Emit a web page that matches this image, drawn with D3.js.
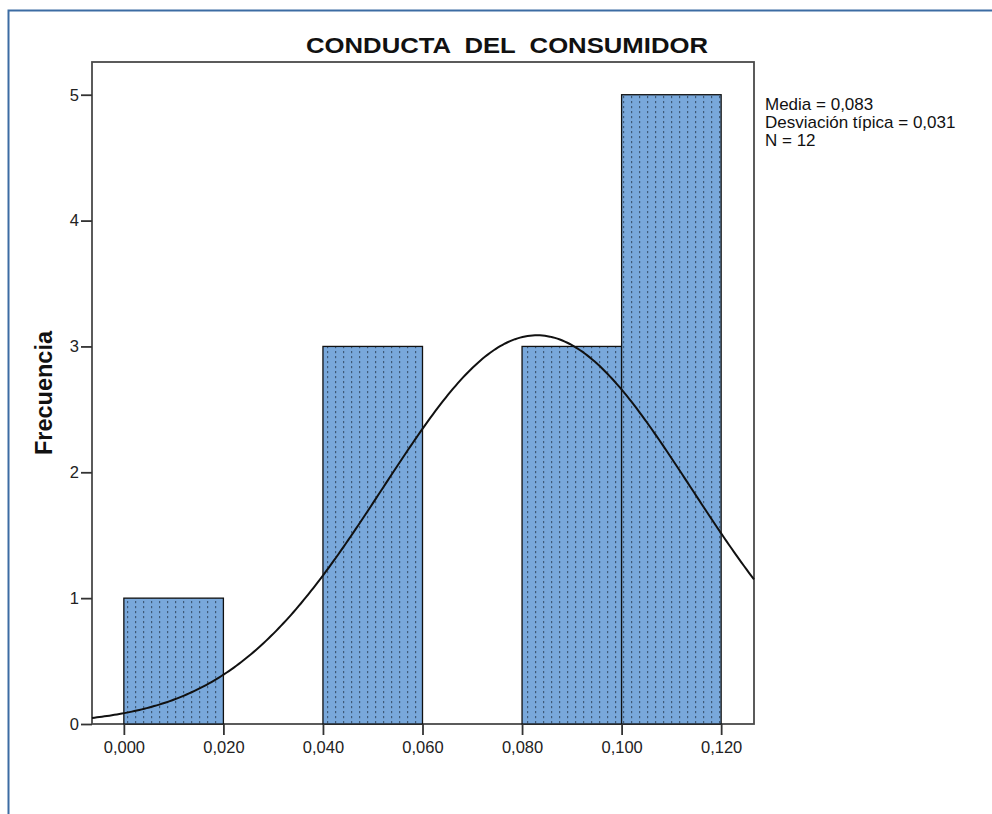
<!DOCTYPE html>
<html>
<head>
<meta charset="utf-8">
<script src="https://cdn.jsdelivr.net/npm/d3@7"></script>
<style>
  body { margin: 0; background: #fff; }
  text { font-family: "Liberation Sans", Arial, sans-serif; }
</style>
</head>
<body>
<div id="chart"></div>
<script>
// histogram bins (lower edge, upper edge) and counts
let binStart = [0.00, 0.02, 0.04, 0.06, 0.08, 0.10];
let binEnd   = [0.02, 0.04, 0.06, 0.08, 0.10, 0.12];
let counts   = [1, 0, 3, 0, 3, 5];
let xTicks   = [0.00, 0.02, 0.04, 0.06, 0.08, 0.10, 0.12];
let yTicks   = [0, 1, 2, 3, 4, 5];
let statsLines = ["Media = 0,083", "Desviación típica = 0,031", "N = 12"];
let mean = 0.083, sd = 0.031, n = 12, binWidth = 0.02;

let width = 992, height = 814;
let plot = {left: 92, right: 754, top: 62, bottom: 724};

let svg = d3.select("#chart")
    .append("svg")
    .attr("width", width)
    .attr("height", height);

// outer blue frame
svg.append("rect")
    .attr("x", 8.5).attr("y", 10.5)
    .attr("width", width + 20).attr("height", height + 20)
    .attr("fill", "none")
    .attr("stroke", "#3c6ca3")
    .attr("stroke-width", 2);

// dotted pattern for bars
let defs = svg.append("defs");
let pat = defs.append("pattern")
    .attr("id", "dots")
    .attr("patternUnits", "userSpaceOnUse")
    .attr("width", 8).attr("height", 5)
    .attr("x", 124 + 3);
pat.append("rect").attr("width", 8).attr("height", 5).attr("fill", "#79a8db");
pat.append("rect").attr("x", 0).attr("y", 1).attr("width", 1.2).attr("height", 2.2).attr("fill", "#3f5a78");

let x = d3.scaleLinear()
    .domain([-0.0064, 0.1266])
    .range([plot.left, plot.right]);

let y = d3.scaleLinear()
    .domain([0, 5.26])
    .range([plot.bottom, plot.top]);

// plot frame
svg.append("rect")
    .attr("x", plot.left).attr("y", plot.top)
    .attr("width", plot.right - plot.left)
    .attr("height", plot.bottom - plot.top)
    .attr("fill", "none")
    .attr("stroke", "#4a4a4a")
    .attr("stroke-width", 1.8);

// bars
let bars = binStart.map(function(d, i) { return {x0: d, x1: binEnd[i], count: counts[i]}; })
    .filter(function(d) { return d.count > 0; });

svg.selectAll("rect.bar")
    .data(bars)
    .enter()
    .append("rect")
    .attr("class", "bar")
    .attr("x", function(d) { return x(d.x0); })
    .attr("y", function(d) { return y(d.count); })
    .attr("width", function(d) { return x(d.x1) - x(d.x0); })
    .attr("height", function(d) { return y(0) - y(d.count); })
    .attr("fill", "url(#dots)")
    .attr("stroke", "#111")
    .attr("stroke-width", 1.3);

// normal curve
let curveX = d3.range(-0.0064, 0.12661, 0.0005);
let curve = d3.line()
    .x(function(d) { return x(d); })
    .y(function(d) {
        let z = (d - mean) / sd;
        return y(n * binWidth / (sd * Math.sqrt(2 * Math.PI)) * Math.exp(-0.5 * z * z));
    });

svg.append("path")
    .datum(curveX)
    .attr("d", curve)
    .attr("fill", "none")
    .attr("stroke", "#111")
    .attr("stroke-width", 2);

// axes
let fmt = function(d) { return d3.format(".3f")(d).replace(".", ","); };

let xAxis = svg.append("g")
    .attr("transform", `translate(0, ${plot.bottom})`)
    .call(d3.axisBottom(x).tickValues(xTicks).tickFormat(fmt).tickSize(11).tickPadding(6));
xAxis.select(".domain").remove();

let yAxis = svg.append("g")
    .attr("transform", `translate(${plot.left}, 0)`)
    .call(d3.axisLeft(y).tickValues(yTicks).tickFormat(d3.format("d")).tickSize(11).tickPadding(2));
yAxis.select(".domain").remove();

svg.selectAll(".tick line").attr("stroke", "#333").attr("stroke-width", 1.8);
svg.selectAll(".tick text")
    .attr("fill", "#222")
    .style("font-size", "16.5px")
    .style("font-family", "'Liberation Sans', Arial, sans-serif");

// title
svg.append("text")
    .attr("x", 306).attr("y", 53)
    .attr("textLength", 402)
    .attr("lengthAdjust", "spacingAndGlyphs")
    .style("font-size", "22.5px")
    .style("font-weight", "bold")
    .attr("fill", "#111")
    .text("CONDUCTA  DEL  CONSUMIDOR")
    .style("white-space", "pre");

// y axis label
svg.append("text")
    .attr("transform", `translate(52, ${(plot.top + plot.bottom) / 2}) rotate(-90)`)
    .style("text-anchor", "middle")
    .style("font-size", "23.5px")
    .style("font-weight", "bold")
    .attr("fill", "#111")
    .text("Frecuencia");

// stats box
svg.append("g")
    .selectAll("text")
    .data(statsLines)
    .enter()
    .append("text")
    .attr("x", 765)
    .attr("y", function(d, i) { return 110 + i * 18; })
    .style("font-size", "17px")
    .attr("fill", "#111")
    .text(function(d) { return d; });
</script>
</body>
</html>
